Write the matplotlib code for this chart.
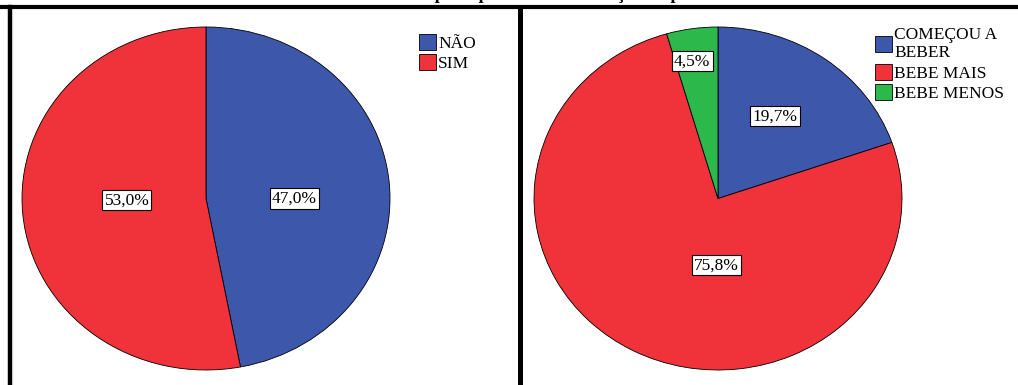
import numpy as np
import matplotlib
matplotlib.use('Agg')
from matplotlib import pyplot as plt
from matplotlib.lines import Line2D

plt.rcParams['font.family'] = ['Liberation Serif', 'DejaVu Serif']

# data
left_labels = ['NÃO', 'SIM']
left_values = [47.0, 53.0]
right_labels = ['COMEÇOU A\nBEBER', 'BEBE MAIS', 'BEBE MENOS']
right_values = [19.7, 75.8, 4.5]

blue = '#3d57ab'
red = '#f0323a'
green = '#2db84b'

# label anchors inside each pie (pie units)
left_lbl_pos = [(0.48, 0.0), (-0.43, -0.01)]
right_lbl_pos = [(0.31, 0.48), (-0.01, -0.39), (-0.14, 0.80)]

W, H = 1018, 385
fig = plt.figure(figsize=(W / 100, H / 100), dpi=100)


def draw_pie(x0, labels, values, colors, lbl_pos, leg_xy):
    ax = fig.add_axes([x0 / W, 15 / H, 368 / W, 343 / H])
    wedges, _ = ax.pie(values, colors=colors, startangle=90, counterclock=False,
                       wedgeprops=dict(edgecolor='black', linewidth=0.6))
    ax.set_aspect('auto')
    ax.set_xlim(-1, 1)
    ax.set_ylim(-1, 1)
    for v, (px, py) in zip(values, lbl_pos):
        ax.text(px, py, f'{v:.1f}%'.replace('.', ','), ha='center', va='center',
                fontsize=12.5,
                bbox=dict(boxstyle='square,pad=0.12', fc='white', ec='black', lw=0.8))
    ax.legend(wedges, labels, loc='upper left',
              bbox_to_anchor=(leg_xy[0] / W, 1 - leg_xy[1] / H),
              bbox_transform=fig.transFigure, frameon=False, fontsize=12.5,
              handlelength=1.0, handleheight=1.0, handletextpad=0.1,
              labelspacing=0.15, borderpad=0, borderaxespad=0)
    return ax


draw_pie(22, left_labels, left_values, [blue, red], left_lbl_pos, (419, 34))
draw_pie(534, right_labels, right_values, [blue, red, green], right_lbl_pos, (875, 27))

# frame lines
fig.add_artist(Line2D([0, 1], [1 - 7 / H, 1 - 7 / H], color='black', lw=3))
fig.add_artist(Line2D([9.5 / W, 9.5 / W], [0, 1 - 7 / H], color='black', lw=3.2))
fig.add_artist(Line2D([519.5 / W, 519.5 / W], [0, 1 - 7 / H], color='black', lw=3.6))

# title, cut off at the top edge (only descenders visible)
fig.text(0.5, 1 + 1 / H, 'Consumo de bebida alcoólica após a pandemia e alteração do padrão de consumo',
         ha='center', va='baseline', fontsize=13, fontweight='bold')

fig.savefig('out.png', dpi=100)
